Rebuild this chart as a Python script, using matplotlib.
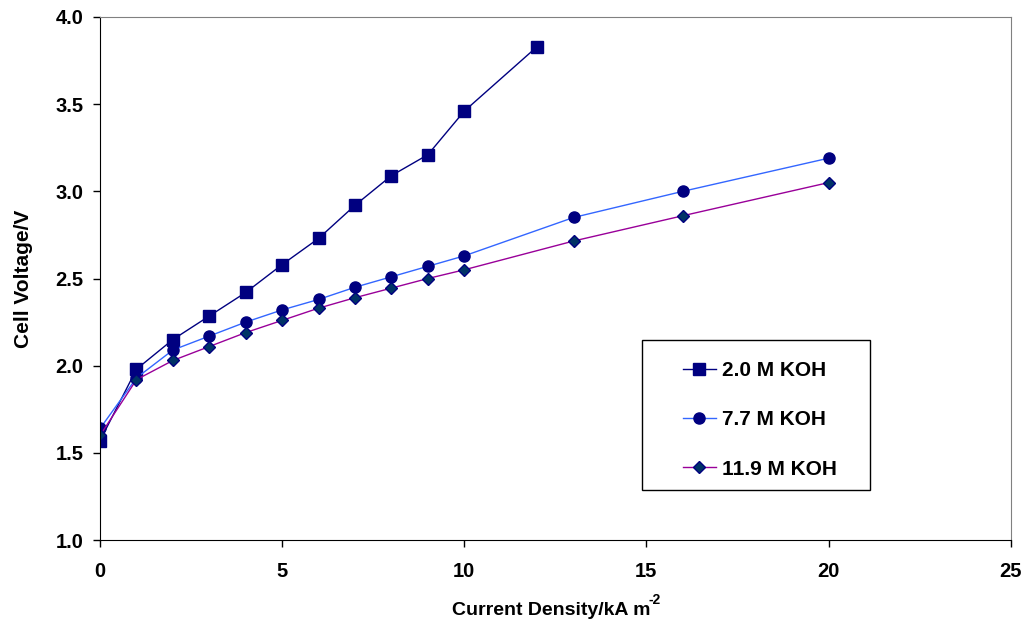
import matplotlib.pyplot as plt
from matplotlib.patches import Rectangle

# Cell voltage vs current density for three KOH concentrations
j_2M = [0, 1, 2, 3, 4, 5, 6, 7, 8, 9, 10, 12]
v_2M = [1.57, 1.98, 2.15, 2.285, 2.42, 2.58, 2.73, 2.92, 3.09, 3.21, 3.46, 3.83]

j_7M = [0, 1, 2, 3, 4, 5, 6, 7, 8, 9, 10, 13, 16, 20]
v_7M = [1.64, 1.93, 2.09, 2.17, 2.25, 2.32, 2.38, 2.45, 2.51, 2.57, 2.63, 2.85, 3.00, 3.19]

j_12M = [0, 1, 2, 3, 4, 5, 6, 7, 8, 9, 10, 13, 16, 20]
v_12M = [1.60, 1.92, 2.03, 2.11, 2.19, 2.26, 2.33, 2.39, 2.445, 2.50, 2.55, 2.715, 2.86, 3.05]

plt.rcParams['font.family'] = ['Liberation Sans', 'DejaVu Sans']
plt.rcParams['font.weight'] = 'bold'

fig = plt.figure(figsize=(10.25, 6.28), dpi=100)
ax = fig.add_axes([0.0976, 0.140, 0.8884, 0.833])

ax.plot(j_2M, v_2M, color='#000080', lw=1.0, marker='s', ms=8,
        mfc='#000080', mec='#000080', label='2.0 M KOH')
ax.plot(j_7M, v_7M, color='#3366FF', lw=1.0, marker='o', ms=8,
        mfc='#000080', mec='#000080', label='7.7 M KOH')
ax.plot(j_12M, v_12M, color='#990099', lw=1.0, marker='D', ms=6,
        mfc='#003366', mec='#000080', label='11.9 M KOH')

ax.set_xlim(0, 25)
ax.set_ylim(1.0, 4.0)
ax.set_xticks([0, 5, 10, 15, 20, 25])
ax.set_yticks([1.0, 1.5, 2.0, 2.5, 3.0, 3.5, 4.0])
ax.set_yticklabels(['%.1f' % v for v in ax.get_yticks()])

ax.spines['left'].set_color('black')
ax.spines['bottom'].set_color('black')
ax.spines['top'].set_color('#808080')
ax.spines['right'].set_color('#808080')
ax.tick_params(direction='out', length=5, width=1, labelsize=14.5, pad=7)
ax.tick_params(axis='x', pad=11)

xl = ax.set_xlabel('Current Density/kA m', fontsize=14, fontweight='bold',
                   labelpad=15, x=0.496)
ax.annotate('-2', xy=(1.0, 0.7), xycoords=xl, fontsize=10, fontweight='bold',
            ha='left', va='bottom', xytext=(-1.5, 0), textcoords='offset points')
ax.set_ylabel('Cell Voltage/V', fontsize=15, fontweight='bold', labelpad=16)

# legend frame and entries
ax.add_patch(Rectangle((0.595, 0.0956), 0.25, 0.287, transform=ax.transAxes,
                       fill=False, edgecolor='black', lw=1.0, zorder=5))
leg = ax.legend(loc='upper left', bbox_to_anchor=(0.64, 0.342),
                fontsize=15, frameon=False, labelspacing=1.45,
                handlelength=1.6, borderpad=0, borderaxespad=0,
                handletextpad=0.3)

fig.savefig('out.png', dpi=100)
